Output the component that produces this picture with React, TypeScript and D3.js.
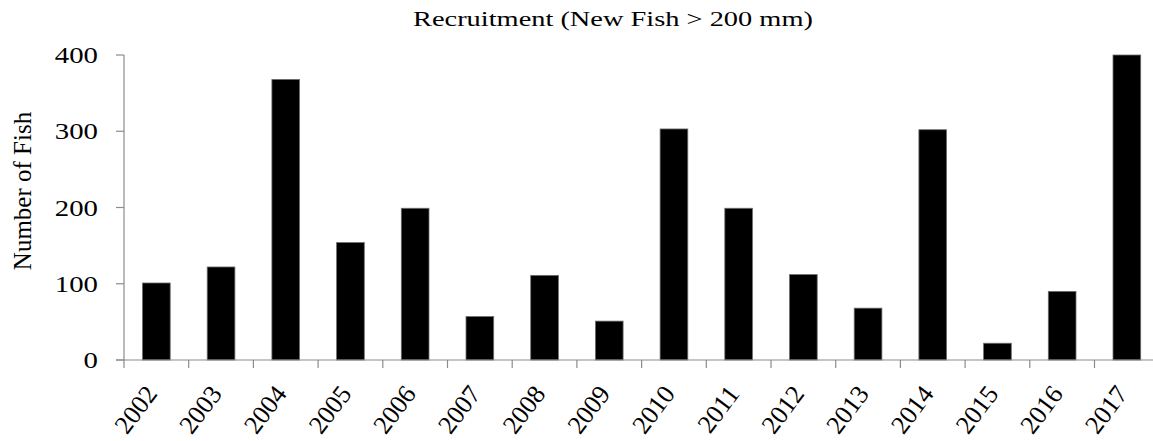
import React from "react";
import * as d3 from "d3";

const years = ["2002","2003","2004","2005","2006","2007","2008","2009","2010","2011","2012","2013","2014","2015","2016","2017"];
const recruits = [101, 122, 368, 154, 199, 57, 111, 51, 303, 199, 112, 68, 302, 22, 90, 400];
const yTicks = [0, 100, 200, 300, 400];
const title = "Recruitment (New Fish > 200 mm)";
const yLabel = "Number of Fish";

export default function App() {
  const W = 1153, H = 441;
  const left = 124, step = 64.7;
  const x = d3.scaleBand<string>().domain(years).range([left, left + step * years.length]).paddingInner(0.572).paddingOuter(0.286);
  const y = d3.scaleLinear().domain([0, 400]).range([360, 55]);
  const axisColor = "#8c8c8c";
  const font = "'Liberation Serif', 'Times New Roman', serif";
  const boundaries = d3.range(years.length + 1).map((i) => left + step * i);
  const tcx = 613;
  return (
    <svg width={W} height={H} style={{ position: "absolute", top: 0, left: 0, background: "#fff" }} fontFamily={font}>
      <rect x={0} y={0} width={W} height={H} fill="#fff" />
      <text x={tcx} y={26.5} textAnchor="middle" fontSize={20} transform={`translate(${tcx},0) scale(1.42,1) translate(${-tcx},0)`}>{title}</text>
      <text transform={`translate(31,191) rotate(-90)`} textAnchor="middle" fontSize={25}>{yLabel}</text>
      {years.map((yr, i) => (
        <rect key={yr} x={x(yr)} y={y(recruits[i])} width={x.bandwidth()} height={y(0) - y(recruits[i])} fill="#000" stroke="#6e6e6e" strokeWidth={0.8} />
      ))}
      <line x1={left} x2={left} y1={y(400)} y2={y(0)} stroke={axisColor} strokeWidth={1.2} />
      {yTicks.map((t) => (
        <g key={t}>
          <line x1={left - 8} x2={left} y1={y(t)} y2={y(t)} stroke={axisColor} strokeWidth={1.2} />
          <text x={98} y={y(t)} dy="0.34em" textAnchor="end" fontSize={24} transform={`translate(98,0) scale(1.2,1) translate(-98,0)`}>{t}</text>
        </g>
      ))}
      <line x1={left - 8} x2={W + 10} y1={y(0)} y2={y(0)} stroke={axisColor} strokeWidth={1.2} />
      {boundaries.map((b, i) => (
        <line key={i} x1={b} x2={b} y1={y(0)} y2={y(0) + 8} stroke={axisColor} strokeWidth={1.2} />
      ))}
      {years.map((yr) => {
        const cx = (x(yr) as number) + x.bandwidth() / 2;
        return (
          <text key={yr} transform={`translate(${cx + 2},${394}) rotate(-53)`} textAnchor="end" fontSize={26}>{yr}</text>
        );
      })}
    </svg>
  );
}
